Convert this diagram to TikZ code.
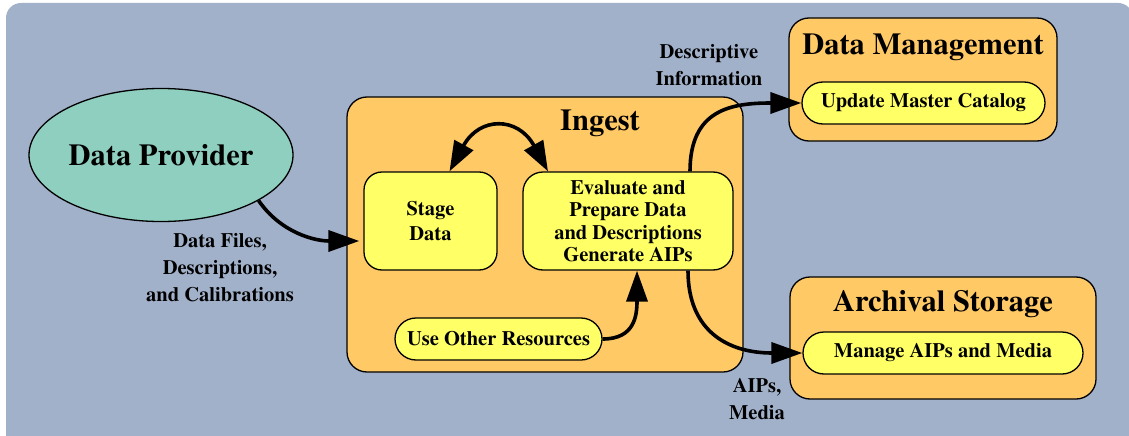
\documentclass[tikz,border=0pt]{standalone}
\usepackage[T1]{fontenc}
\renewcommand{\rmdefault}{ptm}
\usetikzlibrary{arrows.meta,shapes.geometric,calc}
\definecolor{bgblue}{RGB}{162,177,202}
\definecolor{boxorange}{RGB}{255,201,102}
\definecolor{boxyellow}{RGB}{255,255,102}
\definecolor{provteal}{RGB}{143,207,191}
\newcommand{\dpbig}{\rmfamily\fontsize{30.5}{34}\selectfont\bfseries}
\newcommand{\dpsmall}{\rmfamily\fontsize{20.5}{22.3}\selectfont\bfseries}
\newcommand{\dpstage}{\rmfamily\fontsize{20.5}{24.5}\selectfont\bfseries}
\newcommand{\dplbl}{\rmfamily\fontsize{20.5}{27}\selectfont\bfseries}
\begin{document}
\begin{tikzpicture}[x=1pt,y=-1pt,
  outerbox/.style={draw=black, line width=1.3pt, rounded corners=20pt, fill=boxorange, inner sep=0pt},
  subbox/.style={draw=black, line width=1.3pt, fill=boxyellow, inner sep=0pt, align=center, font=\dpsmall},
  titletext/.style={font=\dpbig, inner sep=0pt},
  lbl/.style={font=\dplbl, align=center, inner sep=0pt},
  arr/.style={line width=3.6pt, -{Triangle[length=31pt,width=21pt]}},
  dblarr/.style={line width=3.6pt, {Triangle[length=30pt,width=21pt]}-{Triangle[length=30pt,width=21pt]}},
]
\clip (0,0) rectangle (1129,436);
\fill[white] (0,0) rectangle (1129,436);
\fill[bgblue, rounded corners=15pt] (6,3) rectangle (1133,460);

% Data provider
\node[ellipse, draw=black, line width=1.3pt, fill=provteal, minimum width=264pt, minimum height=133pt, inner sep=0pt, font=\dpbig] (provider) at (161,155) {Data Provider};

% Ingest
\node[outerbox, minimum width=396pt, minimum height=275pt] (ingest) at (545,234.5) {};
\node[titletext] (ingesttitle) at (600,123) {Ingest};
\node[subbox, rounded corners=18pt, minimum width=133pt, minimum height=98pt, font=\dpstage] (stage) at (430.5,221) {Stage\\Data};
\node[subbox, rounded corners=20pt, minimum width=210pt, minimum height=98pt] (evaluate) at (628,221) {Evaluate and\\Prepare Data\\and Descriptions\\Generate AIPs};
\node[subbox, rounded corners=21pt, minimum width=207pt, minimum height=42pt] (useother) at (498.5,339) {Use Other Resources};

% Data Management
\node[outerbox, minimum width=268pt, minimum height=123pt] (dm) at (923,79.5) {};
\node[titletext] (dmtitle) at (923,47) {Data Management};
\node[subbox, rounded corners=21pt, minimum width=243pt, minimum height=42pt] (umc) at (923.5,103) {Update Master Catalog};

% Archival Storage
\node[outerbox, minimum width=306pt, minimum height=122pt] (as) at (943,338) {};
\node[titletext] (astitle) at (943,304) {Archival Storage};
\node[subbox, rounded corners=21pt, minimum width=280pt, minimum height=42pt] (mam) at (943,353) {Manage AIPs and Media};

% Labels
\node[lbl] (lblfiles) at (220,268) {Data Files,\\Descriptions,\\and Calibrations};
\node[lbl] (lbldesc) at (709,65) {Descriptive\\Information};
\node[lbl] (lblaips) at (757,399) {AIPs,\\Media};

% Connectors
\draw[arr] (provider.-25) .. controls +(22,32) and +(-45,0) .. ($(stage.west)+(-4,20)$);
\draw[dblarr] ($(stage.north)+(19,0)$) .. controls +(30,-55) and +(-30,-55) .. ($(evaluate.north)+(-80,0)$);
\draw[arr] (useother.east) .. controls +(32,0) and +(0,45) .. ($(evaluate.south)+(9,0)$);
\draw[arr] ($(evaluate.north)+(62,0)$) .. controls +(0,-62) and +(-70,0) .. (umc.west);
\draw[arr] ($(evaluate.south)+(60,0)$) .. controls +(0,60) and +(-75,0) .. (mam.west);
\end{tikzpicture}
\end{document}
